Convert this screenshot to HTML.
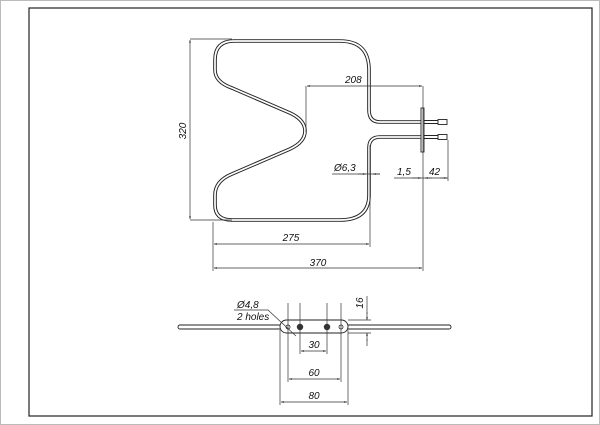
<!DOCTYPE html>
<html><head><style>
html,body{margin:0;padding:0;background:#fff}
svg{display:block}
text{font-family:"Liberation Sans",sans-serif;font-style:italic;font-size:10px;fill:#111}
</style></head><body>
<svg width="600" height="425" viewBox="0 0 600 425" xmlns="http://www.w3.org/2000/svg">
<defs>
<marker id="a" viewBox="0 0 10 10" refX="10" refY="5" markerWidth="6" markerHeight="4" orient="auto-start-reverse"><path d="M0,2 L10,5 L0,8z" fill="#222"/></marker>
</defs>
<rect x="0.5" y="0.5" width="599" height="424" fill="#fff" stroke="#bbb"/>
<rect x="29" y="8" width="563" height="408" fill="none" stroke="#222" stroke-width="1.2"/>
<!-- heating element -->
<g fill="none" stroke-linejoin="round">
<path d="M425,122 L380,122 Q369,122 369,110 L369,70 Q369,41 340,41 L234,41 Q215,41 215,60 L215,70 Q215,82 232,88 L290,113 Q305,120 305,131 Q305,142 290,149 L232,174 Q215,181 215,195 L215,205 Q215,220 232,220 L340,220 Q369,220 369,195 L369,148 Q369,137 380,137 L425,137" stroke="#222" stroke-width="3.6"/>
<path d="M425,122 L380,122 Q369,122 369,110 L369,70 Q369,41 340,41 L234,41 Q215,41 215,60 L215,70 Q215,82 232,88 L290,113 Q305,120 305,131 Q305,142 290,149 L232,174 Q215,181 215,195 L215,205 Q215,220 232,220 L340,220 Q369,220 369,195 L369,148 Q369,137 380,137 L425,137" stroke="#fff" stroke-width="1.7"/>
</g>
<rect x="421" y="108" width="3" height="44" fill="#fff" stroke="#222" stroke-width="0.9"/>
<g stroke="#222" stroke-width="0.9" fill="none">
<path d="M424,120.5 H438 M424,123.5 H438 M424,135.5 H438 M424,138.5 H438"/>
<rect x="438" y="119.5" width="9" height="5"/><rect x="438" y="134.5" width="9" height="5"/>
</g>
<!-- dimensions top -->
<g stroke="#333" stroke-width="0.7" fill="none">
<path d="M190,39 H232 M190,220 H232 M306,86 V132 M423,86 V271 M213,222 V271 M370,145 V247 M448,140 V181 M394,178 H448 M332,174 H380"/>
<line x1="190" y1="40" x2="190" y2="219" marker-start="url(#a)" marker-end="url(#a)"/>
<line x1="307" y1="86" x2="422" y2="86" marker-start="url(#a)" marker-end="url(#a)"/>
<line x1="214" y1="244" x2="369" y2="244" marker-start="url(#a)" marker-end="url(#a)"/>
<line x1="214" y1="268" x2="422" y2="268" marker-start="url(#a)" marker-end="url(#a)"/>
<line x1="358" y1="174" x2="366" y2="174" marker-end="url(#a)"/>
<line x1="380" y1="174" x2="373" y2="174" marker-end="url(#a)"/>
<line x1="412" y1="178" x2="421" y2="178" marker-end="url(#a)"/>
<line x1="432" y1="178" x2="425" y2="178" marker-end="url(#a)"/>
<line x1="440" y1="178" x2="447" y2="178" marker-end="url(#a)"/>
</g>
<text x="186" y="131" text-anchor="middle" transform="rotate(-90 186 131)">320</text>
<text x="345" y="83">208</text>
<text x="334" y="171">Ø6,3</text>
<text x="397" y="175">1,5</text>
<text x="429" y="175">42</text>
<text x="291" y="241" text-anchor="middle">275</text>
<text x="318" y="266" text-anchor="middle">370</text>
<!-- bottom view -->
<rect x="178" y="325" width="273" height="4" rx="2" fill="#fff" stroke="#222" stroke-width="0.9"/>
<rect x="280" y="320" width="68" height="13" rx="6.5" fill="#fff" stroke="#222" stroke-width="0.9"/>
<circle cx="288" cy="327" r="2" fill="#fff" stroke="#222" stroke-width="0.8"/>
<circle cx="341" cy="327" r="2" fill="#fff" stroke="#222" stroke-width="0.8"/>
<circle cx="300" cy="327" r="3.2" fill="#333"/>
<circle cx="327" cy="327" r="3.2" fill="#333"/>
<g stroke="#333" stroke-width="0.7" fill="none">
<path d="M288,303 V382 M341,303 V382 M300,303 V354 M327,303 V354 M280,330 V405 M348,330 V405 M348,320 H371 M348,333 H371 M367,296 V314 M367,339 V346 M234,310 H268 L296,336"/>
<line x1="301" y1="351" x2="326" y2="351" marker-start="url(#a)" marker-end="url(#a)"/>
<line x1="289" y1="379" x2="340" y2="379" marker-start="url(#a)" marker-end="url(#a)"/>
<line x1="281" y1="402" x2="347" y2="402" marker-start="url(#a)" marker-end="url(#a)"/>
<line x1="367" y1="312" x2="367" y2="320" marker-end="url(#a)"/>
<line x1="367" y1="341" x2="367" y2="333" marker-end="url(#a)"/>
</g>
<text x="363" y="303" text-anchor="middle" transform="rotate(-90 363 303)">16</text>
<text x="237" y="308">Ø4,8</text>
<text x="237" y="320">2 holes</text>
<text x="314" y="348" text-anchor="middle">30</text>
<text x="314" y="376" text-anchor="middle">60</text>
<text x="314" y="399" text-anchor="middle">80</text>
</svg>
</body></html>
